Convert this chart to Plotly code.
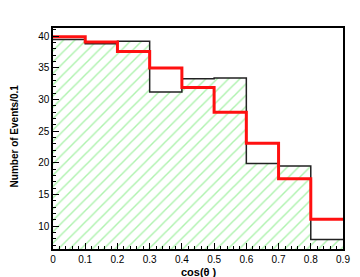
import plotly.graph_objects as go

edges = [0.0, 0.1, 0.2, 0.3, 0.4, 0.5, 0.6, 0.7, 0.8, 0.9]
centers = [0.05, 0.15, 0.25, 0.35, 0.45, 0.55, 0.65, 0.75, 0.85]
data_hist = [39.5, 38.8, 39.2, 31.2, 33.3, 33.4, 19.9, 19.5, 7.9]
model = [39.9, 39.1, 37.6, 35.0, 31.9, 28.0, 23.1, 17.5, 11.1]
xtick_text = ["0", "0.1", "0.2", "0.3", "0.4", "0.5", "0.6", "0.7", "0.8", "0.9"]

fig = go.Figure()
fig.add_trace(go.Bar(
    x=centers, y=data_hist, width=0.1,
    marker=dict(color="white", line=dict(width=0),
                pattern=dict(shape="/", fgcolor="#5ee65e", bgcolor="white", size=8, solidity=0.18)),
    showlegend=False,
))
fig.add_trace(go.Scatter(
    x=edges, y=data_hist + [data_hist[-1]], mode="lines", line_shape="hv",
    line=dict(color="#222222", width=1.5), showlegend=False,
))
fig.add_trace(go.Scatter(
    x=edges, y=model + [model[-1]], mode="lines", line_shape="hv",
    line=dict(color="#ff1010", width=3), showlegend=False,
))

fig.update_layout(
    width=360, height=277,
    margin=dict(l=53, r=17, t=28, b=28, autoexpand=False),
    paper_bgcolor="white", plot_bgcolor="white",
    bargap=0,
    font=dict(family="Liberation Sans, Arial, sans-serif", size=10, color="black"),
    xaxis=dict(range=[0, 0.9], ticks="inside", ticklen=6, tickwidth=1,
               tickcolor="black", showgrid=False, zeroline=False,
               showline=True, linecolor="black", linewidth=1.5, mirror=True,
               minor=dict(dtick=0.02, ticks="inside", ticklen=3, tickcolor="black"),
               tickvals=edges, ticktext=xtick_text),
    yaxis=dict(range=[6.4, 41.3], dtick=5, tick0=0, ticks="inside", ticklen=6, tickwidth=1,
               tickcolor="black", showgrid=False, zeroline=False,
               showline=True, linecolor="black", linewidth=1.5, mirror=True,
               minor=dict(dtick=1, ticks="inside", ticklen=3, tickcolor="black")),
)
fig.add_annotation(text="<b>cos(θ )</b>", x=0.505, y=-0.105, xref="paper", yref="paper",
                   xanchor="center", yanchor="middle", showarrow=False, font=dict(size=11))
fig.add_annotation(text="<b>Number of Events/0.1</b>", x=-0.134, y=0.51, xref="paper", yref="paper",
                   xanchor="center", yanchor="middle", textangle=-90, showarrow=False, font=dict(size=10))

fig.write_html("out.html", config={"displayModeBar": False},
               post_script="document.body.style.margin='0';")
